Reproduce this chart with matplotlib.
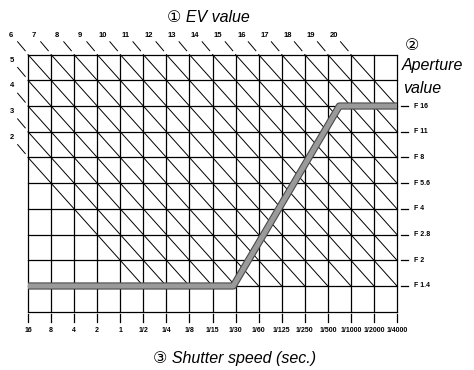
import matplotlib
matplotlib.use('Agg')
import matplotlib.pyplot as plt
import matplotlib.patheffects as pe

# shutter speeds (Tv -4 .. 12) and apertures (Av 1 .. 8)
shutter_labels = ['16', '8', '4', '2', '1', '1/2', '1/4', '1/8', '1/15', '1/30',
                  '1/60', '1/125', '1/250', '1/500', '1/1000', '1/2000', '1/4000']
tv_values = list(range(-4, 13))
f_labels = ['F 1.4', 'F 2', 'F 2.8', 'F 4', 'F 5.6', 'F 8', 'F 11', 'F 16']
av_values = list(range(1, 9))
ev_values = list(range(2, 21))

# program line (Tv, Av)
program_tv = [-4, 4.9, 9.5, 12]
program_av = [1, 1, 8, 8]

TV_MIN, TV_MAX = -4, 12
AV_MIN, AV_MAX = 0, 10
DIAG_AV_MIN = 1

small = ['Liberation Sans Narrow', 'Liberation Sans', 'DejaVu Sans']
big = ['Liberation Sans', 'DejaVu Sans']

fig = plt.figure(figsize=(4.74, 3.70), dpi=100)
ax = fig.add_axes([28 / 474, 1 - 311.7 / 370, 369 / 474, 257.1 / 370])
ax.set_xlim(TV_MIN, TV_MAX)
ax.set_ylim(AV_MIN, AV_MAX)
ax.axis('off')

# grid
for tv in tv_values:
    ax.plot([tv, tv], [AV_MIN, AV_MAX], color='black', lw=0.9, clip_on=False)
for av in range(AV_MIN, AV_MAX + 1):
    ax.plot([TV_MIN, TV_MAX], [av, av], color='black', lw=0.9, clip_on=False)

# EV diagonals: Av + Tv = EV
for ev in ev_values:
    t0 = max(TV_MIN, ev - AV_MAX)
    t1 = min(TV_MAX, ev - DIAG_AV_MIN)
    ax.plot([t0, t1], [ev - t0, ev - t1], color='black', lw=0.7, clip_on=False)
    # short tick + label outside the grid
    if ev - AV_MAX >= TV_MIN:
        tx, ty = ev - AV_MAX, AV_MAX
        ax.text(tx - 0.75, 10.76, str(ev), fontsize=5.5, family=small,
                fontweight='bold', ha='center', va='center')
    else:
        tx, ty = TV_MIN, ev - TV_MIN
        ax.text(-4.69, ty + 0.78, str(ev), fontsize=5.5, family=small,
                fontweight='bold', ha='center', va='center')
    ax.plot([tx - 0.12, tx - 0.45], [ty + 0.15, ty + 0.5], color='black',
            lw=0.7, clip_on=False)

# shutter speed ticks and labels
for tv, lab in zip(tv_values, shutter_labels):
    ax.plot([tv, tv], [-0.1, -0.4], color='black', lw=0.9, clip_on=False)
    ax.text(tv, -0.72, lab, fontsize=5, family=small, fontweight='bold',
            ha='center', va='center')

# aperture dashes and labels
for av, lab in zip(av_values, f_labels):
    ax.plot([12.17, 12.47], [av, av], color='black', lw=0.9, clip_on=False)
    ax.text(12.75, av, lab, fontsize=5, family=small, fontweight='bold',
            ha='left', va='center')

# program line
ax.plot(program_tv, program_av, color='#9a9a9a', lw=3.6, clip_on=False,
        solid_capstyle='butt', solid_joinstyle='round',
        path_effects=[pe.Stroke(linewidth=5.2, foreground='#4a4a4a'), pe.Normal()])

# titles
fig.text(208 / 474, 1 - 22 / 370, '\u2460 EV value', fontsize=11.5, style='italic',
         family=big, ha='center', va='baseline')
fig.text(405 / 474, 1 - 45 / 370, '\u2461', fontsize=11.5, family=big,
         ha='left', va='center')
fig.text(402 / 474, 1 - 70 / 370, 'Aperture', fontsize=11.5, style='italic',
         family=big, ha='left', va='baseline')
fig.text(403 / 474, 1 - 93 / 370, 'value', fontsize=11.5, style='italic',
         family=big, ha='left', va='baseline')
fig.text(235 / 474, 1 - 363 / 370, '\u2462 Shutter speed (sec.)', fontsize=11.5,
         style='italic', family=big, ha='center', va='baseline')

fig.savefig('out.png', dpi=100)
